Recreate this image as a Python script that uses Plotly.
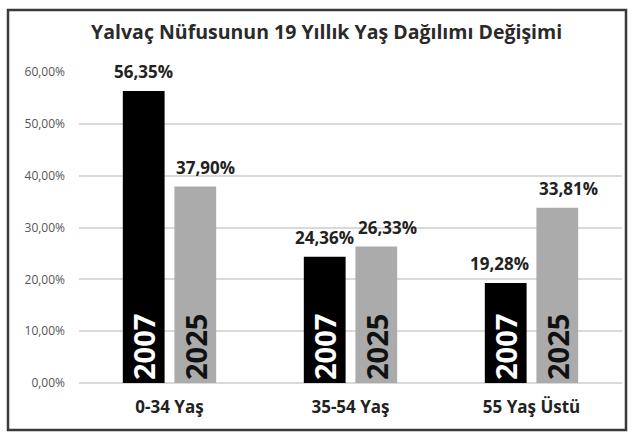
import plotly.graph_objects as go

categories = ["0-34 Yaş", "35-54 Yaş", "55 Yaş Üstü"]
years = ["2007", "2025"]
values_2007 = [0.5635, 0.2436, 0.1928]
values_2025 = [0.3790, 0.2633, 0.3381]
y_ticks = [0, 0.1, 0.2, 0.3, 0.4, 0.5, 0.6]

title = "Yalvaç Nüfusunun 19 Yıllık Yaş Dağılımı Değişimi"
FONT = "Open Sans"

# label x nudges (pixels) per series, like the reference's placement
label_nudge_2007 = [0, 0, -6]
label_nudge_2025 = [10, 11, 11]

fig = go.Figure()
series = [(years[0], values_2007, "#000000", "#ffffff", -26, label_nudge_2007),
          (years[1], values_2025, "#ababab", "#111111", 26, label_nudge_2025)]
for name, vals, color, tcolor, shift, nudges in series:
    fig.add_trace(go.Bar(
        x=categories, y=vals, name=name, marker=dict(color=color, line=dict(width=0)),
        text=[name] * len(vals), textposition="inside", insidetextanchor="start",
        textangle=-90, textfont=dict(family=FONT, size=29, color=tcolor, weight="bold"),
        constraintext="none", hoverinfo="skip",
    ))
    for c, v, n in zip(categories, vals, nudges):
        fig.add_annotation(
            x=c, y=v, xref="x", yref="y", xshift=shift + n, yshift=6,
            text=f"{v*100:.2f}%".replace(".", ","), showarrow=False, yanchor="bottom",
            font=dict(family=FONT, size=17, color="#222222", weight="bold"),
        )

fig.update_layout(
    width=633, height=439,
    margin=dict(l=79, r=11, t=72, b=56),
    paper_bgcolor="white", plot_bgcolor="white",
    barmode="group", bargap=0.43, bargroupgap=0.19,
    showlegend=False, separators=",.",
    title=dict(text=title, x=0.516, xanchor="center", y=0.927, yanchor="middle",
               font=dict(family=FONT, size=19.5, color="#2a2a2a", weight="bold")),
    shapes=[dict(type="rect", xref="paper", yref="paper",
                 x0=-71/543, x1=(626-79)/543, y0=-(430-383)/311, y1=(383-10)/311,
                 line=dict(color="#3a3a3a", width=2.5), layer="below")],
)
fig.update_yaxes(range=[0, 0.6], tickvals=y_ticks, tickformat=".2%",
                 showgrid=True, gridcolor="#d9d9d9", gridwidth=1.5,
                 zeroline=True, zerolinecolor="#d9d9d9", zerolinewidth=1.5,
                 showline=False, ticks="", ticklen=0, ticklabelstandoff=13,
                 tickfont=dict(family=FONT, size=12, color="#555555"))
fig.update_xaxes(showgrid=False, showline=False, ticks="", ticklabelstandoff=12,
                 tickfont=dict(family=FONT, size=17, color="#222222", weight="bold"))

fig.write_html("out.html", config={"displayModeBar": False},
               post_script="document.body.style.margin='0';document.body.style.padding='0';")
